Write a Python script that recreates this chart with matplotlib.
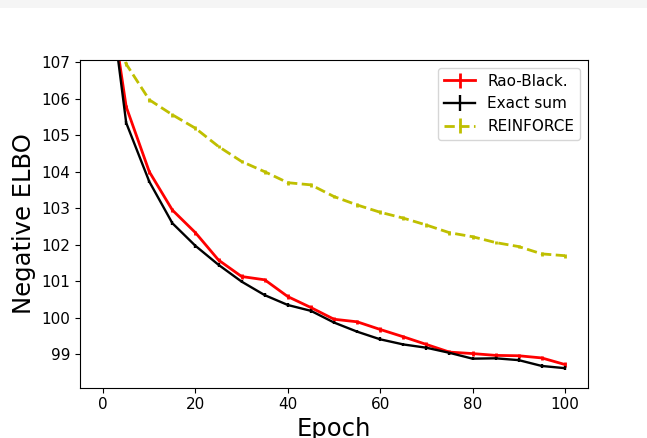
import matplotlib
matplotlib.use("Agg")
import matplotlib.pyplot as plt
from matplotlib.patches import Rectangle

epochs = list(range(0, 101, 5))
rao_black = [110.0, 105.78, 104.0, 102.95, 102.33, 101.58, 101.13, 101.04, 100.58, 100.28,
             99.96, 99.89, 99.68, 99.48, 99.27, 99.06, 99.02, 98.97, 98.96, 98.90, 98.72]
exact_sum = [110.3, 105.34, 103.73, 102.59, 101.97, 101.45, 100.99, 100.62, 100.35, 100.19,
             99.87, 99.62, 99.41, 99.27, 99.18, 99.04, 98.88, 98.89, 98.84, 98.68, 98.62]
reinforce = [108.5, 106.95, 105.97, 105.56, 105.19, 104.69, 104.28, 104.0, 103.70, 103.64,
             103.32, 103.09, 102.89, 102.73, 102.54, 102.33, 102.22, 102.06, 101.95, 101.75, 101.70]
err_rb = [0.06] * len(epochs)
err_es = [0.05] * len(epochs)
err_rf = [0.05] * len(epochs)

fig = plt.figure(figsize=(6.47, 4.38), dpi=100)
fig.patches.append(Rectangle((0, 1 - 8 / 438), 1, 8 / 438, transform=fig.transFigure,
                             facecolor="#f5f5f5", edgecolor="none", zorder=-1))
ax = fig.add_axes([80 / 647, 1 - 387.7 / 438, (588 - 80) / 647, (387.7 - 60) / 438])

ax.errorbar(epochs, rao_black, yerr=err_rb, color="red", lw=2, label="Rao-Black.")
ax.errorbar(epochs, exact_sum, yerr=err_es, color="black", lw=1.7, label="Exact sum")
ax.errorbar(epochs, reinforce, yerr=err_rf, color="y", lw=2, ls="--", label="REINFORCE")

ax.set_xlim(-5, 105)
ax.set_ylim(98.085, 107.06)
ax.set_yticks([99, 100, 101, 102, 103, 104, 105, 106, 107])
ax.set_xticks([0, 20, 40, 60, 80, 100])
ax.tick_params(labelsize=11)
ax.set_xlabel("Epoch", fontsize=17.5, labelpad=3)
ax.set_ylabel("Negative ELBO", fontsize=17.5)
ax.legend(loc="upper right", fontsize=11)

fig.savefig("out.png", dpi=100)
